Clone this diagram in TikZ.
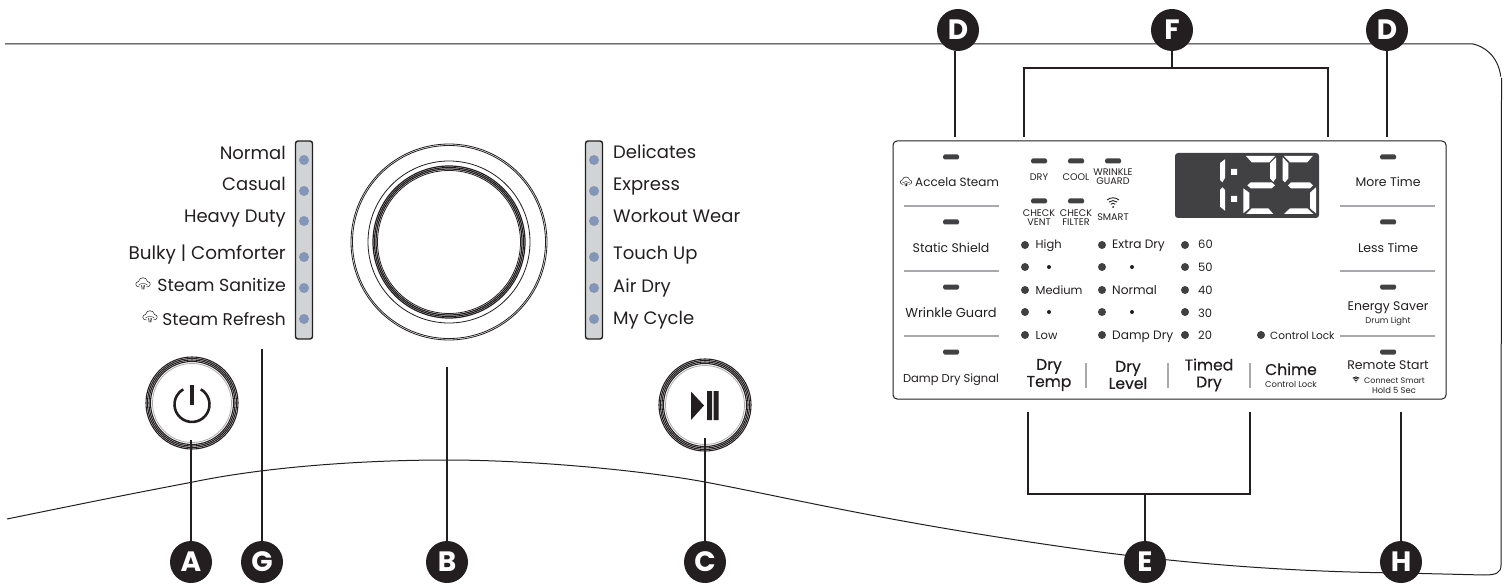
\documentclass[tikz,border=0pt]{standalone}
\usepackage{fontspec}
\setmainfont{Poppins}
\newfontfamily\headfont[FakeBold=0.5]{Poppins}
\definecolor{inkblack}{RGB}{35,31,32}
\definecolor{ledgrey}{RGB}{65,64,66}
\definecolor{rulegrey}{RGB}{167,169,172}
\definecolor{bargrey}{RGB}{209,211,212}
\definecolor{dotblue}{RGB}{132,150,184}
\usetikzlibrary{arrows.meta, positioning, calc}

\tikzset{
  pics/steamicon/.style={code={
    \draw[inkblack, line width=.5pt] (-3.5,3) .. controls (-8,3) and (-8.5,-2) .. (-4.5,-2.5) .. controls (-3.5,-7.5) and (3.5,-7.5) .. (4.5,-2.5) .. controls (8.5,-2) and (8,3) .. (3.5,3);
    \draw[inkblack, line width=.4pt] (-4.5,1) .. controls (-2,-1) and (2,-1) .. (4.5,1);
    \draw[inkblack, line width=.5pt] (-1.5,1) -- (-1,5) (0,1) -- (0,5.5) (1.5,1) -- (1,5);
  }},
  pics/wifiicon/.style={code={
    \fill[inkblack] (0,0) circle (1);
    \draw[inkblack, line width=.9pt] (-130:3.6) arc (-130:-50:3.6) (-130:6.4) arc (-130:-50:6.4) (-130:9.2) arc (-130:-50:9.2);
  }}
}

\begin{document}
\begin{tikzpicture}[
  x=1pt, y=-1pt,
  badge/.style={circle, fill=inkblack, text=white, inner sep=0pt, minimum size=42pt, font=\fontsize{28}{28}\selectfont\bfseries},
  leader/.style={draw=inkblack, line width=2.4pt},
  outline/.style={draw=inkblack, line width=1pt},
  ring/.style={circle, draw=inkblack, line width=.8pt, inner sep=0pt},
  cyc/.style={font=\fontsize{18}{20}\selectfont, text=inkblack, inner sep=0pt},
  opt/.style={font=\fontsize{12.5}{14}\selectfont, text=inkblack, inner sep=0pt},
  opts/.style={font=\fontsize{11.5}{13}\selectfont, text=inkblack, inner sep=0pt},
  tiny/.style={font=\fontsize{9.6}{11}\selectfont, text=inkblack, inner sep=0pt, align=center},
  small/.style={font=\fontsize{8.4}{10}\selectfont, text=inkblack, inner sep=0pt},
  head/.style={font=\fontsize{15.6}{18}\selectfont\headfont, text=inkblack, inner sep=0pt, align=center},
  bar/.style={draw=inkblack, fill=bargrey, line width=1.4pt, rounded corners=2.5pt, inner sep=0pt, minimum width=17pt, minimum height=198pt},
  dotb/.style={circle, fill=dotblue, inner sep=0pt, minimum size=10pt},
  dotk/.style={circle, fill=ledgrey, inner sep=0pt, minimum size=8pt},
  dots/.style={circle, fill=inkblack, inner sep=0pt, minimum size=4pt},
  led/.style={fill=ledgrey, rounded corners=1.5pt, inner sep=0pt, minimum width=16pt, minimum height=5pt},
  sep/.style={draw=rulegrey, line width=1.6pt},
]
  \useasboundingbox (0,0) rectangle (1506,585);

  % body outline
  \draw[outline] (5,44) -- (1473,44) .. controls (1483,46) and (1498,55) .. (1500.7,76.5);
  \draw[outline] (7,519) .. controls (100,500) and (130,494) .. (193,482) .. controls (270,466) and (370,460) .. (446,460) .. controls (530,460) and (640,470) .. (705,482) .. controls (790,498) and (900,525) .. (1100,552) .. controls (1200,565) and (1300,572) .. (1401,573) -- (1484,575) .. controls (1496,575) and (1501,573) .. (1501,565) -- (1501.5,78);

  % panel
  \node[draw=inkblack, line width=1pt, rounded corners=4pt, inner sep=0pt, minimum width=553pt, minimum height=258pt] (panel) at (1169.5,270) {};

  % dial
  \node[ring, minimum size=196pt] (dial) at (449,242) {};
  \node[ring, minimum size=193pt] (dialb) at (449,242) {};
  \node[ring, minimum size=162pt] (dialc) at (449,242) {};
  \node[ring, line width=1.2pt, minimum size=152pt] (diald) at (449,242) {};
  \node[ring, line width=1.2pt, minimum size=149pt] (diale) at (449,242) {};
  \node[ring, line width=1.2pt, minimum size=146pt] (dialf) at (449,242) {};
  \node[ring, minimum size=143pt] (dialg) at (449,242) {};

  % buttons
  \node[ring, line width=1.1pt, minimum size=92pt] (pwr) at (192,403) {};
  \node[ring, line width=1.1pt, minimum size=89pt] (pwrb) at (192,403) {};
  \node[ring, line width=1.1pt, minimum size=86pt] (pwrc) at (192,403) {};
  \node[ring, line width=1.1pt, minimum size=83pt] (pwrd) at (192,403) {};
  \node[ring, draw=rulegrey, minimum size=79pt] (pwre) at (192,403) {};
  \draw[inkblack, line width=2.6pt] (200.75,389.3) arc (-60:240:17.5);
  \draw[inkblack, line width=3.4pt] (192,385) -- (192,405);

  \node[ring, line width=1.1pt, minimum size=92pt] (play) at (705,405) {};
  \node[ring, line width=1.1pt, minimum size=89pt] (playb) at (705,405) {};
  \node[ring, line width=1.1pt, minimum size=86pt] (playc) at (705,405) {};
  \node[ring, line width=1.1pt, minimum size=83pt] (playd) at (705,405) {};
  \node[ring, draw=rulegrey, minimum size=79pt] (playe) at (705,405) {};
  \fill[inkblack] (691,391.5) -- (704,405.5) -- (691,420) -- cycle;
  \fill[inkblack] (707,391) rectangle (712,420) (713.5,391) rectangle (718.5,420);

  % cycle bars
  \node[bar] (barl) at (304,240) {};
  \node[dotb] (l1) at (304,160) {};
  \node[dotb] (l2) at (304,191) {};
  \node[dotb] (l3) at (304,221) {};
  \node[dotb] (l4) at (304,257) {};
  \node[dotb] (l5) at (304,288) {};
  \node[dotb] (l6) at (304,319) {};
  \node[bar] (barr) at (594,240) {};
  \node[dotb] (r1) at (594,160) {};
  \node[dotb] (r2) at (594,191) {};
  \node[dotb] (r3) at (594,221) {};
  \node[dotb] (r4) at (594,257) {};
  \node[dotb] (r5) at (594,288) {};
  \node[dotb] (r6) at (594,319) {};

  \node[cyc, anchor=base east] (normal) at (286,160) {Normal};
  \node[cyc, anchor=base east] (casual) at (286,191) {Casual};
  \node[cyc, anchor=base east] (heavy) at (286,223) {Heavy Duty};
  \node[cyc, font=\fontsize{18.4}{20}\selectfont, anchor=base east] (bulky) at (286,259) {Bulky | Comforter};
  \node[cyc, font=\fontsize{17.4}{20}\selectfont, anchor=base east] (sanitize) at (286,291) {Steam Sanitize};
  \node[cyc, font=\fontsize{17}{20}\selectfont, anchor=base east] (refresh) at (286,325) {Steam Refresh};
  \pic at (143,284) {steamicon};
  \pic at (150,317) {steamicon};
  \node[cyc, anchor=base west] (delicates) at (613,159) {Delicates};
  \node[cyc, anchor=base west] (express) at (613,191) {Express};
  \node[cyc, anchor=base west] (workout) at (613,223) {Workout Wear};
  \node[cyc, anchor=base west] (touch) at (613,259) {Touch Up};
  \node[cyc, anchor=base west] (airdry) at (613,292) {Air Dry};
  \node[cyc, anchor=base west] (mycycle) at (613,324) {My Cycle};

  % left option column
  \node[led] (la) at (951,157) {};
  \node[led] (lb) at (951,222) {};
  \node[led] (lc) at (951,287) {};
  \node[led] (ld) at (951,352) {};
  \pic[scale=.8] at (906,182) {steamicon};
  \node[opt, font=\fontsize{12}{14}\selectfont, anchor=base west] (accela) at (915,187) {Accela Steam};
  \node[opt, anchor=base] (shield) at (951,252) {Static Shield};
  \node[opt, font=\fontsize{13}{14}\selectfont, anchor=base] (wrinkle) at (951,317) {Wrinkle Guard};
  \node[opts, anchor=base] (signal) at (951,382) {Damp Dry Signal};
  \draw[sep] (904,206) -- (999,206) (904,271) -- (999,271) (904,336) -- (999,336);

  % right option column
  \node[led] (ra) at (1388,157) {};
  \node[led] (rb) at (1388,222) {};
  \node[led] (rc) at (1388,287) {};
  \node[led] (rd) at (1388,352) {};
  \node[opt, anchor=base] (more) at (1388,187) {More Time};
  \node[opt, anchor=base] (less) at (1388,252) {Less Time};
  \node[opt, anchor=base] (saver) at (1388,310) {Energy Saver};
  \node[small, anchor=base] (drum) at (1388,323) {Drum Light};
  \node[opt, anchor=base] (remote) at (1388,369) {Remote Start};
  \node[small, font=\fontsize{8}{10}\selectfont, anchor=base west] (connect) at (1364,383) {Connect Smart};
  \node[small, anchor=base] (hold) at (1394,393) {Hold 5 Sec};
  \pic[scale=.55] at (1356,382) {wifiicon};
  \draw[sep] (1340,206) -- (1435,206) (1340,271) -- (1435,271) (1340,336) -- (1435,336);

  % status lights
  \node[led] (dry) at (1039,161) {};
  \node[led] (cool) at (1076,161) {};
  \node[led] (guard) at (1113,161) {};
  \node[led] (vent) at (1039,201) {};
  \node[led] (filter) at (1076,201) {};
  \pic at (1113,207) {wifiicon};
  \node[tiny, anchor=base] (dryt) at (1039,181) {DRY};
  \node[tiny, anchor=base] (coolt) at (1076,181) {COOL};
  \node[tiny] (guardt) at (1113,177) {WRINKLE\\[-2pt]GUARD};
  \node[tiny] (ventt) at (1039,218) {CHECK\\[-2pt]VENT};
  \node[tiny] (filtert) at (1076,218) {CHECK\\[-2pt]FILTER};
  \node[tiny, anchor=base] (smart) at (1113,221) {SMART};

  % display
  \node[fill=ledgrey, rounded corners=3pt, inner sep=0pt, minimum width=144pt, minimum height=65pt] (display) at (1247,185.5) {};
  \fill[white] (1225,159.3) -- (1225,178) -- (1222.3,182.3) -- (1220,180) -- (1220,163) -- cycle;
  \fill[white] (1222.3,187.3) -- (1225,190) -- (1225,210.7) -- (1220,206.7) -- (1220,190) -- cycle;
  \fill[white] (1231,169) rectangle (1237,175) (1231,196) rectangle (1237,202);
  \fill[white] (1246,156) -- (1275,156) -- (1269.3,162.3) -- (1251.7,162.3) -- cycle;
  \fill[white] (1276,157.3) -- (1276,178) -- (1273.3,182) -- (1270,178.3) -- (1270,163.3) -- cycle;
  \fill[white] (1247.3,185.3) -- (1250.7,182.3) -- (1271.7,182.3) -- (1275,185.3) -- (1271.7,188.3) -- (1250.7,188.3) -- cycle;
  \fill[white] (1243.3,188.3) -- (1249.3,192.7) -- (1249.3,208.3) -- (1243.3,213.3) -- cycle;
  \fill[white] (1251.7,208.3) -- (1268.3,208.3) -- (1273.3,214) -- (1246,214) -- cycle;
  \fill[white] (1284,156) -- (1312.7,156) -- (1307.3,162.3) -- (1290,162.3) -- cycle;
  \fill[white] (1282.7,157.3) -- (1288.3,163.3) -- (1288.3,178.3) -- (1285,182.3) -- (1282.7,180) -- cycle;
  \fill[white] (1288,185.3) -- (1291,182.3) -- (1310,182.3) -- (1313,185.3) -- (1310,188.3) -- (1291,188.3) -- cycle;
  \fill[white] (1316,187.3) -- (1316,213.3) -- (1310,208.3) -- (1310,192.7) -- cycle;
  \fill[white] (1290,208.3) -- (1307.3,208.3) -- (1313.3,214) -- (1284,214) -- cycle;

  % temp, level and time settings
  \node[dotk] (ta) at (1025,245) {};
  \node[dotk] (tb) at (1025,267) {};
  \node[dotk] (tc) at (1025,290) {};
  \node[dotk] (td) at (1025,312) {};
  \node[dotk] (te) at (1025,335) {};
  \node[dots] (tbs) at (1049,267) {};
  \node[dots] (tds) at (1049,312) {};
  \node[opts, anchor=base west] (high) at (1035.5,249) {High};
  \node[opts, anchor=base west] (medium) at (1035.5,294) {Medium};
  \node[opts, anchor=base west] (low) at (1035.5,339) {Low};
  \node[dotk] (da) at (1102,245) {};
  \node[dotk] (db) at (1102,267) {};
  \node[dotk] (dc) at (1102,290) {};
  \node[dotk] (dd) at (1102,312) {};
  \node[dotk] (de) at (1102,335) {};
  \node[dots] (dbs) at (1132,267) {};
  \node[dots] (dds) at (1132,312) {};
  \node[opts, font=\fontsize{12.2}{13}\selectfont, anchor=base west] (extra) at (1112,249) {Extra Dry};
  \node[opts, font=\fontsize{12.2}{13}\selectfont, anchor=base west] (nrm) at (1112,294) {Normal};
  \node[opts, font=\fontsize{12.2}{13}\selectfont, anchor=base west] (damp) at (1112,339) {Damp Dry};
  \node[dotk] (ma) at (1185,245) {};
  \node[dotk] (mb) at (1185,267) {};
  \node[dotk] (mc) at (1185,290) {};
  \node[dotk] (md) at (1185,312) {};
  \node[dotk] (me) at (1185,335) {};
  \node[opts, anchor=base west] (m60) at (1198,249) {60};
  \node[opts, anchor=base west] (m50) at (1198,272) {50};
  \node[opts, anchor=base west] (m40) at (1198,294) {40};
  \node[opts, anchor=base west] (m30) at (1198,317) {30};
  \node[opts, anchor=base west] (m20) at (1198,339) {20};
  \node[dotk] (lk) at (1261,335) {};
  \node[opts, font=\fontsize{10.5}{13}\selectfont, anchor=base west] (lockt) at (1270,339) {Control Lock};

  \node[head] (temp) at (1049,375) {Dry\\[-1pt]Temp};
  \node[head] (level) at (1128,375) {Dry\\[-1pt]Level};
  \node[head] (timed) at (1209,375) {Timed\\[-1pt]Dry};
  \node[head, anchor=base] (chime) at (1291,375) {Chime};
  \node[small, anchor=base] (chimet) at (1291,387) {Control Lock};
  \draw[sep] (1086,363) -- (1086,388) (1168,363) -- (1168,388) (1250,363) -- (1250,388);

  % leader ends
  \coordinate (ae) at (191,440);
  \coordinate (ge) at (263,349);
  \coordinate (be) at (447,367);
  \coordinate (ce) at (705,438);
  \coordinate (hk) at (1401,412);
  \coordinate (de1) at (955,137);
  \coordinate (de2) at (1387,137);
  \coordinate (fl) at (1024,68);
  \coordinate (fr) at (1328,68);
  \coordinate (fle) at (1024,137);
  \coordinate (fre) at (1328,137);
  \coordinate (el) at (1028,494);
  \coordinate (er) at (1250,494);
  \coordinate (ele) at (1028,412);
  \coordinate (ere) at (1250,412);

  \node[badge] (A) at (191,562) {A};
  \node[badge] (G) at (262,562) {G};
  \node[badge] (B) at (447,562) {B};
  \node[badge] (C) at (705,562) {C};
  \node[badge] (E) at (1145,562) {E};
  \node[badge] (H) at (1401,562) {H};
  \node[badge] (D1) at (958,30) {D};
  \node[badge] (F) at (1172,30) {F};
  \node[badge] (D2) at (1387,30) {D};

  \draw[leader] (A) -- (ae);
  \draw[leader] (G) -- (G |- ge);
  \draw[leader] (B) -- (be);
  \draw[leader] (C) -- (ce);
  \draw[leader] (H) -- (hk);
  \draw[leader] (de1 |- D1.south) -- (de1);
  \draw[leader] (D2) -- (de2);
  \draw[leader] (F) -- (F |- fl);
  \draw[leader] (fle) -- (fl) -- (fr) -- (fre);
  \draw[leader] (E) -- (E |- el);
  \draw[leader] (ele) -- (el) -- (er) -- (ere);
\end{tikzpicture}
\end{document}
